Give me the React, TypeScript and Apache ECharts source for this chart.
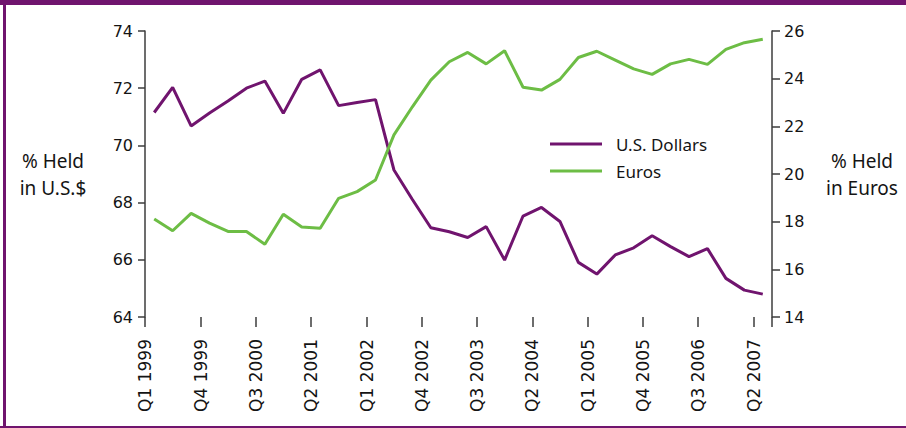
import React, { useEffect, useRef } from "react";
import * as echarts from "echarts";

const quarters = [
  "Q1 1999", "Q2 1999", "Q3 1999", "Q4 1999",
  "Q1 2000", "Q2 2000", "Q3 2000", "Q4 2000",
  "Q1 2001", "Q2 2001", "Q3 2001", "Q4 2001",
  "Q1 2002", "Q2 2002", "Q3 2002", "Q4 2002",
  "Q1 2003", "Q2 2003", "Q3 2003", "Q4 2003",
  "Q1 2004", "Q2 2004", "Q3 2004", "Q4 2004",
  "Q1 2005", "Q2 2005", "Q3 2005", "Q4 2005",
  "Q1 2006", "Q2 2006", "Q3 2006", "Q4 2006",
  "Q1 2007", "Q2 2007",
];

const usDollars = [
  71.15, 72.03, 70.68, 71.13, 71.55, 72.0, 72.25, 71.12, 72.31, 72.64, 71.39, 71.5,
  71.6, 69.14, 68.11, 67.12, 66.98, 66.78, 67.16, 65.99, 67.53, 67.83, 67.34, 65.91,
  65.5, 66.17, 66.42, 66.84, 66.46, 66.11, 66.39, 65.35, 64.94, 64.8,
];

const euros = [
  18.11, 17.62, 18.35, 17.94, 17.59, 17.59, 17.05, 18.31, 17.78, 17.72, 18.98, 19.26,
  19.75, 21.64, 22.82, 23.94, 24.71, 25.1, 24.62, 25.17, 23.64, 23.52, 23.97, 24.89,
  25.15, 24.78, 24.41, 24.18, 24.62, 24.81, 24.6, 25.23, 25.51, 25.65,
];

const seriesNames = ["U.S. Dollars", "Euros"];
const leftAxisName = "% Held\nin U.S.$";
const rightAxisName = "% Held\nin Euros";

const PURPLE = "#70146e";
const GREEN = "#6dbd45";
const AXIS = "#3c3c3c";
const TEXT = "#141414";
const FONT = "Noto Sans";
const NUM_FONT = "DejaVu Sans";

export default function App() {
  const ref = useRef<HTMLDivElement>(null);

  useEffect(() => {
    document.body.style.margin = "0";
    const chart = echarts.init(ref.current!, null, { renderer: "svg" });
    chart.setOption({
      animation: false,
      backgroundColor: "#ffffff",
      textStyle: { fontFamily: FONT },
      grid: { left: 145, right: 134, top: 31, bottom: 111, containLabel: false },
      legend: {
        left: 545,
        top: 129,
        orient: "vertical",
        icon: "rect",
        itemWidth: 52,
        itemHeight: 3,
        itemGap: 7,
        textStyle: {
          fontSize: 17,
          lineHeight: 20,
          color: TEXT,
          fontFamily: FONT,
          padding: [0, 0, 0, 9],
        },
        data: seriesNames,
      },
      xAxis: {
        type: "category",
        data: quarters,
        boundaryGap: true,
        axisLine: { show: false },
        axisTick: {
          show: true,
          interval: 2,
          length: 10,
          lineStyle: { color: AXIS, width: 1.5 },
        },
        axisLabel: {
          interval: 2,
          rotate: 90,
          margin: 22,
          fontSize: 17,
          color: TEXT,
          fontFamily: NUM_FONT,
          verticalAlign: "bottom",
          lineHeight: 18,
        },
        splitLine: { show: false },
      },
      yAxis: [
        {
          type: "value",
          min: 64,
          max: 74,
          interval: 2,
          position: "left",
          axisLine: { show: true, lineStyle: { color: AXIS, width: 1.5 } },
          axisTick: { show: true, length: 7, lineStyle: { color: AXIS, width: 1.5 } },
          axisLabel: { fontSize: 16, color: TEXT, margin: 12, fontFamily: NUM_FONT },
          splitLine: { show: false },
        },
        {
          type: "value",
          min: 14,
          max: 26,
          interval: 2,
          position: "right",
          axisLine: { show: true, lineStyle: { color: AXIS, width: 1.5 } },
          axisTick: { show: true, length: 8, lineStyle: { color: AXIS, width: 1.5 } },
          axisLabel: { fontSize: 16, color: TEXT, margin: 12, fontFamily: NUM_FONT },
          splitLine: { show: false },
        },
      ],
      series: [
        {
          name: seriesNames[0],
          type: "line",
          yAxisIndex: 0,
          data: usDollars,
          symbol: "none",
          lineStyle: { color: PURPLE, width: 3 },
          itemStyle: { color: PURPLE },
        },
        {
          name: seriesNames[1],
          type: "line",
          yAxisIndex: 1,
          data: euros,
          symbol: "none",
          lineStyle: { color: GREEN, width: 3 },
          itemStyle: { color: GREEN },
        },
      ],
      graphic: [
        { type: "rect", shape: { x: 0, y: 0, width: 906, height: 5 }, style: { fill: PURPLE } },
        { type: "rect", shape: { x: 3, y: 0, width: 3, height: 428 }, style: { fill: PURPLE } },
        { type: "rect", shape: { x: 0, y: 426, width: 906, height: 2 }, style: { fill: PURPLE } },
        {
          type: "text",
          x: 53,
          y: 174,
          style: {
            text: leftAxisName,
            textAlign: "center",
            textVerticalAlign: "middle",
            fontSize: 19,
            lineHeight: 27,
            fill: TEXT,
            fontFamily: FONT,
          },
        },
        {
          type: "text",
          x: 862,
          y: 174,
          style: {
            text: rightAxisName,
            textAlign: "center",
            textVerticalAlign: "middle",
            fontSize: 19,
            lineHeight: 27,
            fill: TEXT,
            fontFamily: FONT,
          },
        },
      ],
    });
    return () => chart.dispose();
  }, []);

  return <div ref={ref} style={{ width: 906, height: 428 }} />;
}
